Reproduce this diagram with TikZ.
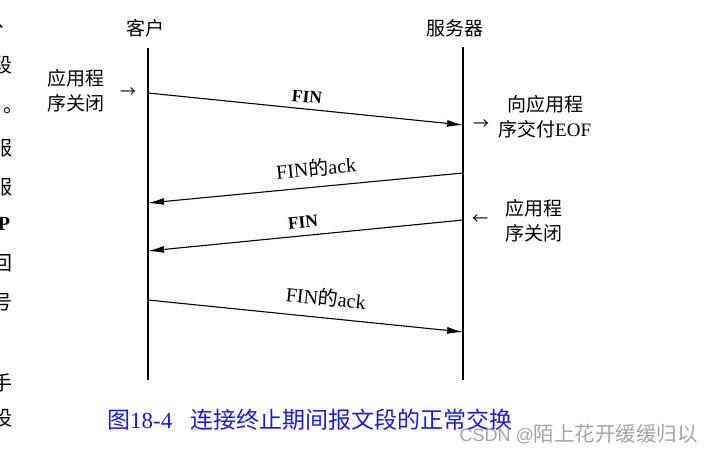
\documentclass[tikz,border=0pt]{standalone}
\usepackage{fontspec}
\setmainfont{Liberation Serif}
\newfontfamily\cjk{Noto Sans CJK SC}
\newfontfamily\wmlat{Liberation Sans}
\usetikzlibrary{arrows.meta}
\definecolor{capblue}{RGB}{25,25,235}
\definecolor{wmgray}{RGB}{165,165,165}
\tikzset{
  life/.style={line width=1.3pt},
  msg/.style={line width=1.1pt,-{Latex[length=16pt,width=7pt]}},
  lbl/.style={font=\fontsize{19}{25}\selectfont\cjk,align=left,inner sep=0pt},
  head/.style={font=\fontsize{19}{22}\selectfont\cjk,inner sep=0pt},
  msglbl/.style={font=\fontsize{20}{22}\selectfont,inner sep=0pt},
  finlbl/.style={font=\fontsize{17.5}{20}\selectfont\bfseries,inner sep=0pt},
  side/.style={font=\fontsize{16}{20}\selectfont\cjk,inner sep=0pt},
  margin/.style={font=\fontsize{20}{22}\selectfont\cjk,inner sep=0pt},
}
\begin{document}
\begin{tikzpicture}[x=1pt,y=-1pt]
\useasboundingbox (0,0) rectangle (714,452);
\begin{scope}
\clip (0,0) rectangle (714,452);
% cut-off page text at the left margin
\node[margin] (m1) at (7,26) {、};
\node[margin] (m2) at (2,65) {段};
\node[margin] (m3) at (14,111) {。};
\node[margin] (m4) at (2,148) {服};
\node[margin] (m5) at (2,187) {服};
\node[margin,font=\fontsize{20}{22}\selectfont\bfseries] (m6) at (4,224) {P};
\node[margin] (m7) at (2,263) {回};
\node[margin] (m8) at (2,302) {号};
\node[margin] (m9) at (2,383) {手};
\node[margin] (m10) at (2,418) {设};
\end{scope}
% headers
\node[head] (hc) at (145,28) {客户};
\node[head] (hs) at (455,28) {服务器};
% lifelines
\coordinate (ct) at (148,48);
\coordinate (cb) at (148,380);
\coordinate (st) at (463,47);
\coordinate (sb) at (463,380);
\draw[life] (ct) -- (cb);
\draw[life] (st) -- (sb);
% message endpoints
\coordinate (a1) at (148,93);
\coordinate (b1) at (463,125);
\coordinate (a2) at (463,173);
\coordinate (b2) at (148,203);
\coordinate (a3) at (463,220);
\coordinate (b3) at (148,251);
\coordinate (a4) at (148,300);
\coordinate (b4) at (463,332);
\draw[msg] (a1) -- (b1);
\draw[msg] (a2) -- (b2);
\draw[msg] (a3) -- (b3);
\draw[msg] (a4) -- (b4);
% message labels
\node[finlbl,rotate=-5.8] (l1) at (307,97) {FIN};
\node[msglbl,rotate=5.5] (l2) at (316,168) {FIN{\cjk 的}ack};
\node[finlbl,rotate=5.5] (l3) at (303,222) {FIN};
\node[msglbl,rotate=-5.8] (l4) at (326,298) {FIN{\cjk 的}ack};
% side notes
\node[lbl,anchor=west] (n1) at (47,91) {应用程\\序关闭};
\node[side] (r1) at (128,93) {→};
\node[lbl,anchor=west] (n2) at (498,117) {\hspace{9pt}向应用程\\序交付{\rmfamily\fontsize{19}{25}\selectfont EOF}};
\node[side] (r2) at (481,125) {→};
\node[lbl,anchor=west] (n3) at (505,221) {应用程\\序关闭};
\node[side] (r3) at (480,220) {←};
% caption
\node[font=\fontsize{23}{26}\selectfont,text=capblue,anchor=west,inner sep=0pt] (cap) at (107,420) {{\cjk 图}18-4\hspace{18pt}{\cjk 连接终止期间报文段的正常交换}};
% watermark
\node[font=\fontsize{20.5}{24}\selectfont\cjk,text=wmgray,anchor=east,inner sep=0pt] (wm) at (698,434) {{\wmlat\fontsize{18}{20}\selectfont CSDN @}陌上花开缓缓归以};
\end{tikzpicture}
\end{document}
